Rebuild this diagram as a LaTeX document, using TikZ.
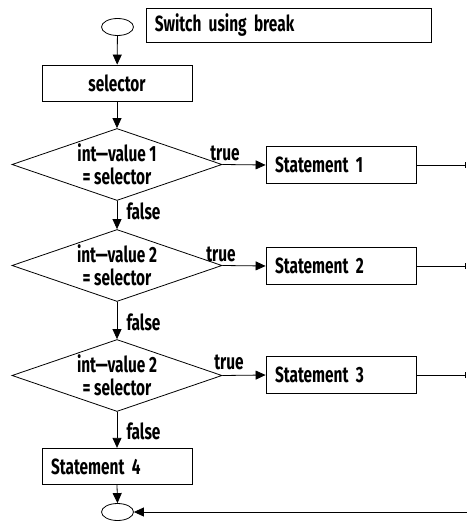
\documentclass[tikz,border=0pt]{standalone}
\usepackage{fontspec}
\setmainfont{Fira Sans}[FakeStretch=0.7]
\usetikzlibrary{shapes.geometric,arrows.meta}
\begin{document}
\begin{tikzpicture}[x=1pt,y=-1pt,
  font=\fontsize{22}{23}\selectfont\bfseries,
  line width=0.8pt,
  term/.style={draw, ellipse, minimum width=32pt, minimum height=17pt, inner sep=0pt},
  plainbox/.style={draw, rectangle, minimum width=150pt, minimum height=36pt, inner sep=0pt, align=center},
  sbox/.style={draw, rectangle, minimum height=36.5pt, inner ysep=0pt, inner xsep=9pt, text width=132pt, align=left},
  titlebox/.style={draw, rectangle, minimum height=34pt, inner ysep=0pt, inner xsep=8pt, text width=269pt, align=left},
  dec/.style={draw, diamond, aspect=3, minimum width=210pt, minimum height=72pt, inner sep=0pt, align=center},
  lbl/.style={inner sep=0pt},
  arr/.style={-{Triangle[length=10pt,width=9pt]}},
]
\useasboundingbox (0,0) rectangle (466,521);

\node[term] (start) at (117.5,27) {};
\node[titlebox] (title) at (289.3,25.3) {Switch using break};
\node[plainbox] (sel) at (117,83) {selector};

\node[dec] (d1) at (117,164.5) {int—value 1\\= selector};
\node[sbox] (s1) at (341,165) {Statement 1};
\node[dec] (d2) at (117,265.5) {int—value 2\\= selector};
\node[sbox] (s2) at (341,266) {Statement 2};
\node[dec] (d3) at (117,375.5) {int—value 2\\= selector};
\node[sbox] (s3) at (341,375) {Statement 3};
\node[sbox] (s4) at (117,466.5) {Statement 4};
\node[term] (end) at (117.5,512) {};

\node[lbl] (t1) at (225,153.5) {true};
\node[lbl] (t2) at (221,254) {true};
\node[lbl] (t3) at (229,362) {true};
\node[lbl] (f1) at (143.5,211) {false};
\node[lbl] (f2) at (143.5,322.5) {false};
\node[lbl] (f3) at (143.5,431.5) {false};

\coordinate (r1) at (465,165);
\coordinate (r2) at (465,266);
\coordinate (r3) at (465,375);
\coordinate (rb) at (467,512);

\draw[arr] (start) -- (sel);
\draw[arr] (sel) -- (d1.north);
\draw[arr] (d1.east) -- (s1.west);
\draw[arr] (d1.south) -- (d2.north);
\draw[arr] (d2.east) -- (s2.west);
\draw[arr] (d2.south) -- (d3.north);
\draw[arr] (d3.east) -- (s3.west);
\draw[arr] (d3.south) -- (s4.north);
\draw[arr] (s4.south) -- (end.north);

\draw (s1.east) -- (r1);
\draw (s2.east) -- (r2);
\draw (s3.east) -- (r3);
\foreach \r in {r1,r2,r3} \draw ([yshift=-3pt]\r) -- ([yshift=3pt]\r);
\draw[arr] (rb) -- (end.east);
\end{tikzpicture}
\end{document}
